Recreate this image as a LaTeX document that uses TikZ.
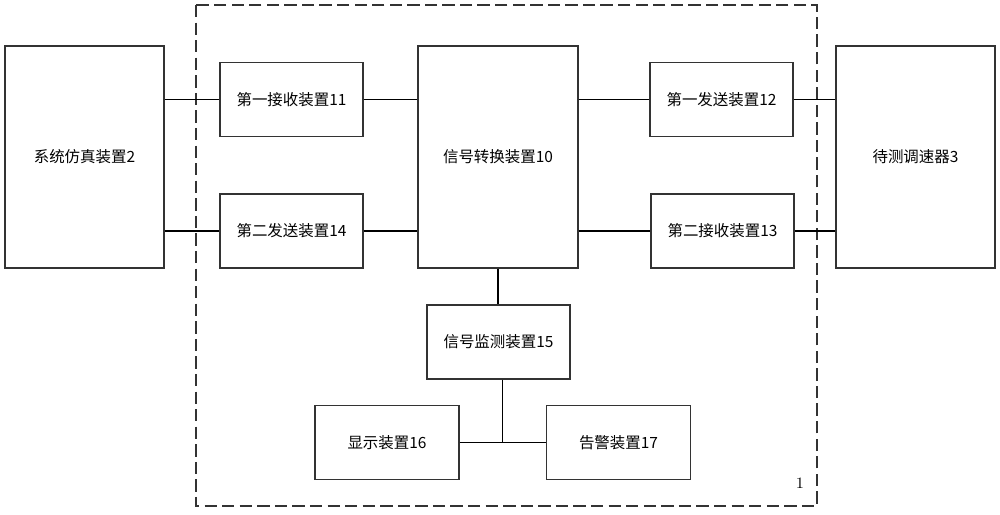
\documentclass[tikz,border=0pt]{standalone}
\usepackage{fontspec}
\newfontfamily\cjk{Noto Sans CJK SC}
\usepackage{tikz}
\usetikzlibrary{calc}

\tikzset{
  unit/.style={draw=black!80, line width=0.7pt, minimum width=2.86cm, minimum height=1.48cm,
    inner sep=0pt, font=\cjk\fontsize{8.8}{10}\selectfont},
  bigunit/.style={unit, minimum width=3.18cm, minimum height=4.44cm},
  wire/.style={black, line width=1.1pt},
}

\begin{document}
\begin{tikzpicture}[x=0.02cm, y=-0.02cm]
  \useasboundingbox (0,0) rectangle (1000,514);
  % Dashed frame of the test device
  \coordinate (FTL) at (196,5);
  \coordinate (FBR) at (817,506);
  \draw[black!80, line width=0.6pt, dash pattern=on 7pt off 3pt] (FTL) rectangle (FBR);
  \node[font=\fontsize{9}{10}\selectfont] (lbl) at (800,483) {1};
  % Outer units
  \node[bigunit] (sim) at (84.5,157) {系统仿真装置2};
  \node[bigunit] (dut) at (915.5,157) {待测调速器3};
  % Units inside the frame
  \node[bigunit, minimum width=3.2cm] (conv) at (498,157) {信号转换装置10};
  \node[unit] (rxa) at (291.5,99.5) {第一接收装置11};
  \node[unit] (txb) at (291.5,231) {第二发送装置14};
  \node[unit] (txa) at (721.5,99.5) {第一发送装置12};
  \node[unit] (rxb) at (722.5,231) {第二接收装置13};
  \node[unit] (mon) at (498.5,342) {信号监测装置15};
  \node[unit, minimum width=2.88cm] (disp) at (387,442.5) {显示装置16};
  \node[unit, minimum width=2.88cm] (alarm) at (618.5,442.5) {告警装置17};
  % Upper signal path
  \draw[wire] (sim.east |- rxa.west) -- (rxa.west);
  \draw[wire] (rxa.east) -- (conv.west |- rxa.east);
  \draw[wire] (conv.east |- txa.west) -- (txa.west);
  \draw[wire] (txa.east) -- (dut.west |- txa.east);
  % Lower signal path
  \draw[wire] (sim.east |- txb.west) -- (txb.west);
  \draw[wire] (txb.east) -- (conv.west |- txb.east);
  \draw[wire] (conv.east |- rxb.west) -- (rxb.west);
  \draw[wire] (rxb.east) -- (dut.west |- rxb.east);
  % Monitoring branch
  \draw[wire, line width=0.7pt] (conv.south) -- (mon.north -| conv.south);
  \coordinate (jn) at ($(mon.south)+(4,0)$);
  \draw[wire] (jn) -- (jn |- disp.east);
  \draw[wire] (disp.east) -- (alarm.west);
\end{tikzpicture}
\end{document}
